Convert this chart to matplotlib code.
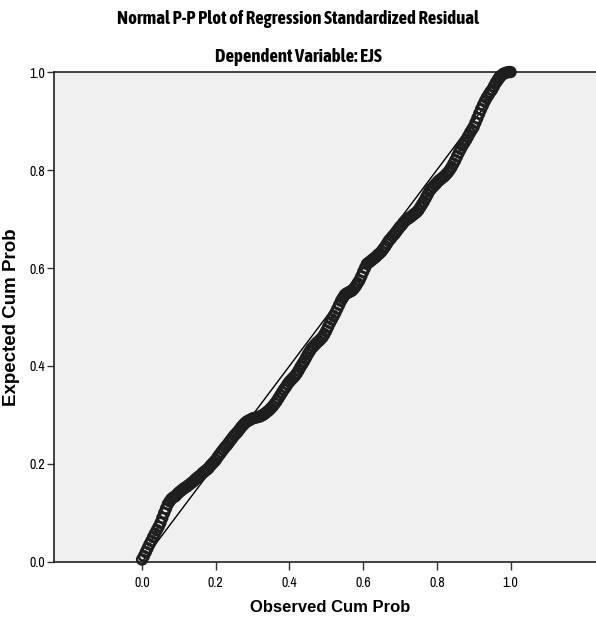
import matplotlib.pyplot as plt
from matplotlib import font_manager

# observed cumulative probability vs expected cumulative probability
observed = [
    0.000, 0.005, 0.010, 0.015, 0.020, 0.025, 0.030, 0.035, 0.040, 0.045,
    0.050, 0.055, 0.060, 0.065, 0.070, 0.075, 0.080, 0.085, 0.090, 0.095,
    0.100, 0.105, 0.110, 0.115, 0.120, 0.125, 0.130, 0.135, 0.140, 0.145,
    0.150, 0.155, 0.160, 0.165, 0.170, 0.175, 0.180, 0.185, 0.190, 0.195,
    0.200, 0.205, 0.210, 0.215, 0.220, 0.225, 0.230, 0.235, 0.240, 0.245,
    0.250, 0.255, 0.260, 0.265, 0.270, 0.275, 0.280, 0.285, 0.290, 0.295,
    0.300, 0.305, 0.310, 0.315, 0.320, 0.325, 0.330, 0.335, 0.340, 0.345,
    0.350, 0.355, 0.360, 0.365, 0.370, 0.375, 0.380, 0.385, 0.390, 0.395,
    0.400, 0.405, 0.410, 0.415, 0.420, 0.425, 0.430, 0.435, 0.440, 0.445,
    0.450, 0.455, 0.460, 0.465, 0.470, 0.475, 0.480, 0.485, 0.490, 0.495,
    0.500, 0.505, 0.510, 0.515, 0.520, 0.525, 0.530, 0.535, 0.540, 0.545,
    0.550, 0.555, 0.560, 0.565, 0.570, 0.575, 0.580, 0.585, 0.590, 0.595,
    0.600, 0.605, 0.610, 0.615, 0.620, 0.625, 0.630, 0.635, 0.640, 0.645,
    0.650, 0.655, 0.660, 0.665, 0.670, 0.675, 0.680, 0.685, 0.690, 0.695,
    0.700, 0.705, 0.710, 0.715, 0.720, 0.725, 0.730, 0.735, 0.740, 0.745,
    0.750, 0.755, 0.760, 0.765, 0.770, 0.775, 0.780, 0.785, 0.790, 0.795,
    0.800, 0.805, 0.810, 0.815, 0.820, 0.825, 0.830, 0.835, 0.840, 0.845,
    0.850, 0.855, 0.860, 0.865, 0.870, 0.875, 0.880, 0.885, 0.890, 0.895,
    0.900, 0.905, 0.910, 0.915, 0.920, 0.925, 0.930, 0.935, 0.940, 0.945,
    0.950, 0.955, 0.960, 0.965, 0.970, 0.975, 0.980, 0.985, 0.990, 0.995,
    1.000,
]
expected = [
    0.005, 0.012, 0.020, 0.028, 0.036, 0.043, 0.051, 0.058, 0.065, 0.072,
    0.080, 0.090, 0.100, 0.109, 0.118, 0.124, 0.129, 0.132, 0.134, 0.138,
    0.142, 0.145, 0.148, 0.151, 0.153, 0.156, 0.159, 0.162, 0.165, 0.169,
    0.172, 0.175, 0.178, 0.182, 0.185, 0.188, 0.191, 0.196, 0.200, 0.204,
    0.208, 0.214, 0.219, 0.224, 0.229, 0.234, 0.238, 0.243, 0.248, 0.253,
    0.258, 0.262, 0.266, 0.271, 0.276, 0.280, 0.284, 0.287, 0.289, 0.291,
    0.293, 0.294, 0.295, 0.296, 0.297, 0.299, 0.301, 0.304, 0.307, 0.310,
    0.314, 0.318, 0.323, 0.328, 0.334, 0.340, 0.346, 0.352, 0.357, 0.363,
    0.368, 0.372, 0.376, 0.380, 0.385, 0.391, 0.398, 0.404, 0.410, 0.417,
    0.424, 0.430, 0.436, 0.440, 0.444, 0.448, 0.451, 0.455, 0.459, 0.465,
    0.472, 0.480, 0.488, 0.495, 0.502, 0.509, 0.517, 0.525, 0.533, 0.539,
    0.545, 0.548, 0.550, 0.552, 0.554, 0.558, 0.563, 0.569, 0.575, 0.583,
    0.592, 0.600, 0.608, 0.611, 0.614, 0.617, 0.620, 0.623, 0.627, 0.630,
    0.634, 0.639, 0.644, 0.650, 0.656, 0.660, 0.665, 0.669, 0.674, 0.679,
    0.684, 0.688, 0.693, 0.697, 0.700, 0.702, 0.705, 0.708, 0.711, 0.714,
    0.718, 0.724, 0.730, 0.736, 0.743, 0.750, 0.757, 0.762, 0.766, 0.770,
    0.774, 0.778, 0.781, 0.784, 0.787, 0.791, 0.795, 0.800, 0.806, 0.813,
    0.820, 0.828, 0.836, 0.843, 0.850, 0.856, 0.862, 0.869, 0.876, 0.882,
    0.888, 0.897, 0.906, 0.915, 0.924, 0.932, 0.940, 0.947, 0.953, 0.959,
    0.964, 0.971, 0.978, 0.984, 0.990, 0.993, 0.996, 0.998, 0.999, 1.000,
    1.000,
]
ticks = [0.0, 0.2, 0.4, 0.6, 0.8, 1.0]

# pick a condensed face (regular and bold) if installed, otherwise shrink the regular one
cond = [f for f in font_manager.fontManager.ttflist
        if 'Narrow' in f.name or 'Condensed' in f.name]
narrow = cond[0].name if cond else 'Liberation Sans'
bold_cond = [f.name for f in cond if f.weight in ('bold', 700, 'heavy') or
             (isinstance(f.weight, int) and f.weight >= 600)]
if bold_cond:
    narrow_bold, title_size = bold_cond[0], 13.5
else:
    narrow_bold, title_size = 'Liberation Sans', 10.5
tick_size = 10 if cond else 9

fig = plt.figure(figsize=(5.96, 6.22), dpi=100)
ax = fig.add_axes([0.0906, 0.0965, 0.9094, 0.7877])
ax.set_facecolor('#f0f0f0')

ax.plot([0, 1], [0, 1], color='black', linewidth=1.0, zorder=2)
ax.scatter(observed, expected, s=50, facecolors='none', edgecolors='#1e1e1e',
           linewidths=1.8, zorder=3, clip_on=False)

ax.set_xlim(-0.239, 1.232)
ax.set_ylim(0, 1)
ax.set_xticks(ticks)
ax.set_yticks(ticks)
ax.set_xticklabels([f'{t:.1f}' for t in ticks], fontfamily=narrow, fontsize=tick_size)
ax.set_yticklabels([f'{t:.1f}' for t in ticks], fontfamily=narrow, fontsize=tick_size)
ax.tick_params(axis='x', direction='out', length=6, width=1, color='#333333', pad=4)
ax.tick_params(axis='y', direction='out', length=5, width=1, color='#333333', pad=1.5)

for side in ['left', 'bottom', 'top']:
    ax.spines[side].set_color('#222222')
    ax.spines[side].set_linewidth(1.2)
ax.spines['right'].set_visible(False)

ax.set_xlabel('Observed Cum Prob', fontfamily='Liberation Sans', fontweight='bold',
              fontsize=12, va='center')
ax.xaxis.set_label_coords(0.509, -0.092)
ax.set_ylabel('Expected Cum Prob', fontfamily='Liberation Sans', fontweight='bold',
              fontsize=13.5)
ax.yaxis.set_label_coords(-0.063, 0.5)

fig.text(0.5, 0.970, 'Normal P-P Plot of Regression Standardized Residual',
         ha='center', va='center', fontfamily=narrow_bold, fontweight='bold',
         fontsize=title_size)
fig.text(0.5, 0.909, 'Dependent Variable: EJS',
         ha='center', va='center', fontfamily=narrow_bold, fontweight='bold',
         fontsize=title_size)

fig.savefig('out.png', dpi=100)
